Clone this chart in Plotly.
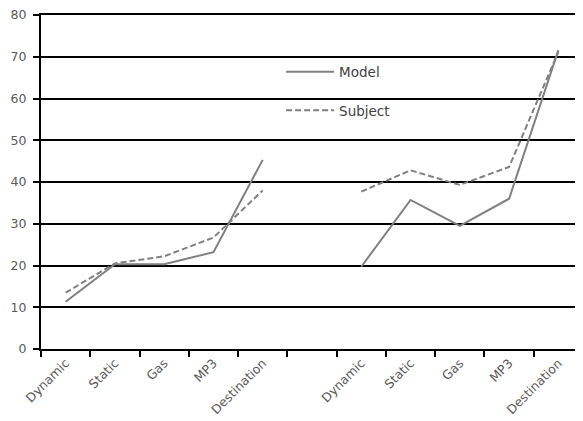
import plotly.graph_objects as go

labels = ["Dynamic", "Static", "Gas", "MP3", "Destination", "",
          "Dynamic", "Static", "Gas", "MP3", "Destination"]
model = [11.3, 20.3, 20.3, 23.2, 45.3, None, 19.7, 35.7, 29.5, 36.0, 71.6]
subject = [13.5, 20.5, 22.2, 26.7, 38.0, None, 37.7, 42.8, 39.3, 43.6, 71.2]
y_ticks = [0, 10, 20, 30, 40, 50, 60, 70, 80]

x = list(range(len(labels)))
line_color = "#808080"
font = dict(family="DejaVu Sans, sans-serif", size=12.5, color="#5a5a5a")

fig = go.Figure()
fig.add_trace(go.Scatter(x=x, y=model, mode="lines", name="Model",
                         line=dict(color=line_color, width=2),
                         legendgroup="a", connectgaps=False))
fig.add_trace(go.Scatter(x=x, y=subject, mode="lines", name="Subject",
                         line=dict(color=line_color, width=2, dash="6px,3px"),
                         legendgroup="b", connectgaps=False))

# the page body adds an 8px offset, so the figure is sized to fit the window
fig.update_layout(
    width=575, height=413,
    margin=dict(l=33, r=0, t=7, b=72),
    paper_bgcolor="white", plot_bgcolor="white",
    font=font,
    showlegend=True,
    legend=dict(x=0.443, y=0.876, xanchor="left", yanchor="top",
                bgcolor="rgba(0,0,0,0)", traceorder="grouped",
                itemwidth=48,
                tracegroupgap=18, font=dict(size=13.5, color="#404040")),
    xaxis=dict(
        range=[-0.5, len(labels) - 0.5], automargin=False,
        tickmode="array", tickvals=x, ticktext=labels,
        tickangle=-45, ticks="", showgrid=False, zeroline=False,
        ticklabeloverflow="allow",
        showline=True, mirror=True, linecolor="black", linewidth=2,
        minor=dict(tickmode="array",
                   tickvals=[i - 0.5 for i in range(len(labels) + 1)],
                   ticks="outside", ticklen=6, tickwidth=2, tickcolor="black",
                   showgrid=False),
        tickfont=font,
    ),
    yaxis=dict(
        range=[0, 80], automargin=False,
        tickmode="array", tickvals=y_ticks, ticktext=[f"{v} " for v in y_ticks],
        ticklabeloverflow="allow",
        showgrid=True, gridcolor="black", gridwidth=2,
        zeroline=False, showline=True, linecolor="black", linewidth=2,
        ticks="outside", ticklen=6, tickwidth=2, tickcolor="black",
        tickfont=font,
    ),
)

fig.write_html("out.html")
